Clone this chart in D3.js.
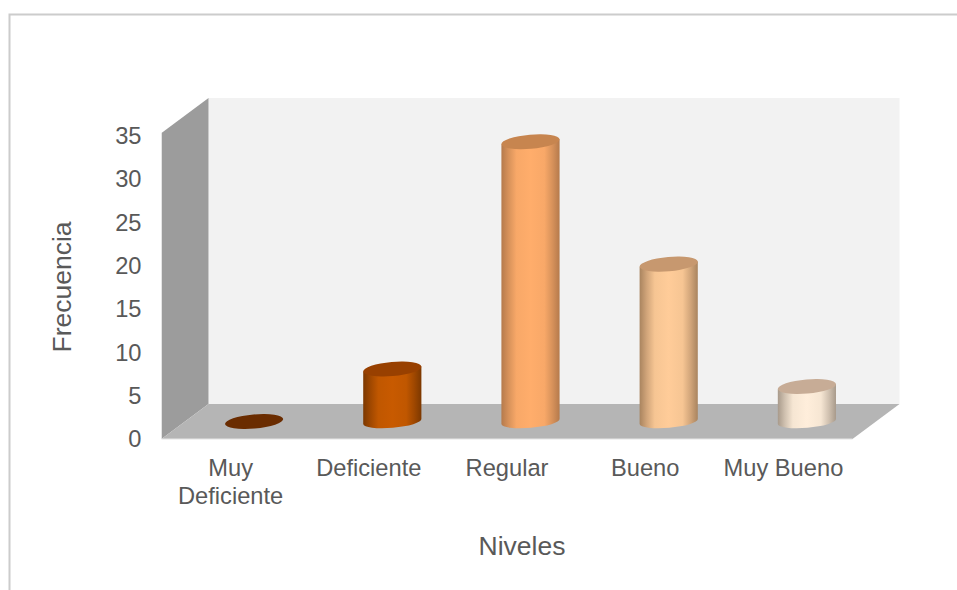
<!DOCTYPE html>
<html><head><meta charset="utf-8">
<script src="https://cdn.jsdelivr.net/npm/d3@7"></script>
<style>html,body{margin:0;padding:0;background:#fff}svg{display:block}text{font-family:"Liberation Sans",Arial,sans-serif;fill:#595959}</style>
</head><body><svg id="c" width="957" height="590"></svg>
<script>
const categories=["Muy Deficiente","Deficiente","Regular","Bueno","Muy Bueno"];
const values=[0,6,32,18,4];
const yTicks=[0,5,10,15,20,25,30,35];
const sideEdge=["#6a2c00","#7c3800","#b57a4c","#a9845f","#a89a8b"];
const sideMid=["#6a2c00","#c85a00","#ffad6b","#ffcc99","#ffeedb"];
const topFill=["#6a2c00","#984000","#c7854f","#c7986f","#c7ac96"];
const xTitle="Niveles", yTitle="Frecuencia";

const svg=d3.select("#c");
const defs=svg.append("defs");
const plotL=161.5,plotR=852.5,plotB=439,plotT=133,dx=47,dy=35;
const x=d3.scaleBand().domain(categories).range([plotL,plotR]);
const y=d3.scaleLinear().domain([0,35]).range([plotB,plotT]);
const yLabels=d3.scaleLinear().domain([0,35]).range([plotB,plotT+3]);
const fs=23.7, titleFs=26.5;

// frame
svg.append("path").attr("d","M9.5,590V14.5H957").attr("fill","none").attr("stroke","#cccccc").attr("stroke-width",2);

// walls
svg.append("path").attr("d",`M${plotL+dx},${plotT-dy}H${plotR+dx}V${plotB-dy}H${plotL+dx}Z`).attr("fill","#f2f2f2");
svg.append("path").attr("d",`M${plotL},${plotT}L${plotL+dx},${plotT-dy}V${plotB-dy}L${plotL},${plotB}Z`).attr("fill","#9c9c9c");
svg.append("path").attr("d",`M${plotL},${plotB}L${plotL+dx},${plotB-dy}H${plotR+dx}L${plotR},${plotB}Z`).attr("fill","#b5b5b5");
svg.append("path").attr("d",`M${plotL},${plotT}V${plotB}H${plotR}`).attr("fill","none").attr("stroke","#e4e4e4").attr("stroke-width",1);

// cylinders
const rx=29.2,ry=6.3,tilt=-5;
const t=tilt*Math.PI/180;
const ex=rx*Math.cos(t),ey=rx*Math.sin(t);
values.forEach((v,i)=>{
  const g=defs.append("linearGradient").attr("id","g"+i);
  const mix=d3.interpolateRgb(sideEdge[i],sideMid[i]);
  [[0,sideEdge[i]],[.12,mix(.45)],[.26,mix(.9)],[.5,sideMid[i]],[.74,mix(.9)],[.88,mix(.45)],[1,sideEdge[i]]]
    .forEach(s=>g.append("stop").attr("offset",s[0]).attr("stop-color",s[1]));
});
const bars=svg.append("g").selectAll("g").data(categories).join("g")
  .attr("transform",d=>`translate(${x(d)+x.bandwidth()/2+dx/2},${-dy/2})`);
bars.each(function(d,i){
  const s=d3.select(this),yb=y(0),yt=y(values[i]);
  if(values[i]>0){
    s.append("path")
     .attr("d",`M${-ex},${yt-ey}V${yb-ey}A${rx},${ry} ${tilt} 0 0 ${ex},${yb+ey}V${yt+ey}Z`)
     .attr("fill",`url(#g${i})`);
  }
  s.append("ellipse").attr("rx",rx).attr("ry",ry+0.8).attr("cy",yt).attr("transform",`rotate(${tilt} 0 ${yt})`).attr("fill",topFill[i]);
});

// y axis
const ya=svg.append("g").attr("transform",`translate(141.5,0)`).call(d3.axisLeft(yLabels).tickValues(yTicks).tickSize(0).tickPadding(0));
ya.select(".domain").remove();
ya.selectAll("text").attr("font-size",fs).style("font-family",'"Liberation Sans",Arial,sans-serif').attr("fill","#595959");

// x labels
svg.append("g").selectAll("text").data(categories).join("text")
  .attr("text-anchor","middle").attr("font-size",fs)
  .attr("transform",d=>`translate(${x(d)+x.bandwidth()/2},476)`)
  .each(function(d){
    const words=d==="Muy Deficiente"?d.split(" "):[d];
    d3.select(this).selectAll("tspan").data(words).join("tspan").attr("x",0).attr("dy",(w,j)=>j?28:0).text(w=>w);
  });

svg.append("text").attr("x",522).attr("y",555).attr("text-anchor","middle").attr("font-size",titleFs).text(xTitle);
svg.append("text").attr("transform","translate(71,287) rotate(-90)").attr("text-anchor","middle").attr("font-size",titleFs).text(yTitle);
</script></body></html>
